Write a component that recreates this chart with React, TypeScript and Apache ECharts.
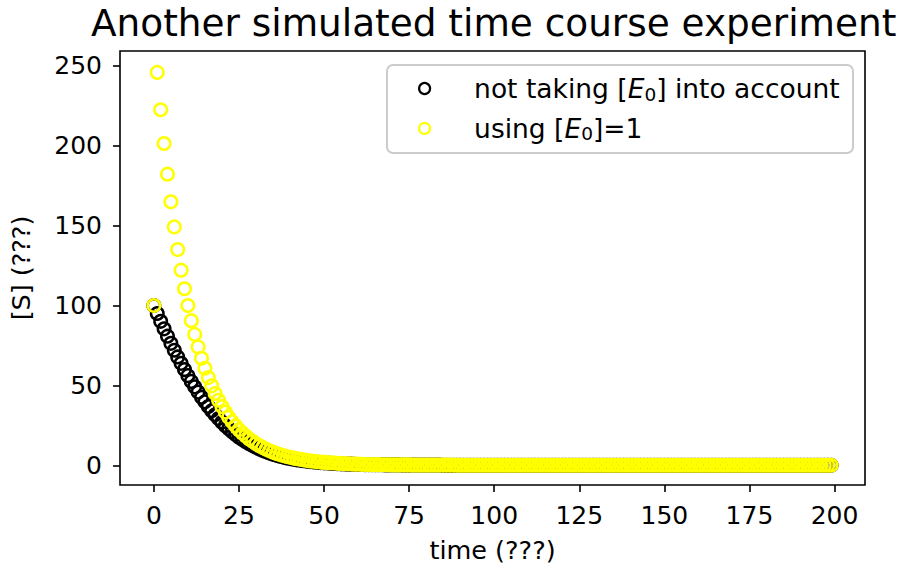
import React, { useEffect, useRef } from "react";
import * as echarts from "echarts";

const TITLE = "Another simulated time course experiment";
const X_NAME = "time (???)";
const Y_NAME = "[S] (???)";
const S1 = "not taking [E0] into account";
const S2 = "using [E0]=1";

const xTicks = [0, 25, 50, 75, 100, 125, 150, 175, 200];
const yTicks = [0, 50, 100, 150, 200, 250];

const time = [
  0, 1, 2, 3, 4, 5, 6, 7, 8, 9, 10, 11, 12, 13, 14, 15, 16, 17, 18, 19,
  20, 21, 22, 23, 24, 25, 26, 27, 28, 29, 30, 31, 32, 33, 34, 35, 36, 37, 38, 39,
  40, 41, 42, 43, 44, 45, 46, 47, 48, 49, 50, 51, 52, 53, 54, 55, 56, 57, 58, 59,
  60, 61, 62, 63, 64, 65, 66, 67, 68, 69, 70, 71, 72, 73, 74, 75, 76, 77, 78, 79,
  80, 81, 82, 83, 84, 85, 86, 87, 88, 89, 90, 91, 92, 93, 94, 95, 96, 97, 98, 99,
  100, 101, 102, 103, 104, 105, 106, 107, 108, 109, 110, 111, 112, 113, 114, 115, 116, 117, 118, 119,
  120, 121, 122, 123, 124, 125, 126, 127, 128, 129, 130, 131, 132, 133, 134, 135, 136, 137, 138, 139,
  140, 141, 142, 143, 144, 145, 146, 147, 148, 149, 150, 151, 152, 153, 154, 155, 156, 157, 158, 159,
  160, 161, 162, 163, 164, 165, 166, 167, 168, 169, 170, 171, 172, 173, 174, 175, 176, 177, 178, 179,
  180, 181, 182, 183, 184, 185, 186, 187, 188, 189, 190, 191, 192, 193, 194, 195, 196, 197, 198, 199,
];

const sNoE0 = [
  100.0, 95.0, 90.1, 85.4, 80.8, 76.3, 72.0, 67.8, 63.8, 59.9, 56.1, 52.5, 49.1, 45.8, 42.6, 39.7, 36.8, 34.1, 31.6, 29.2,
  26.9, 24.8, 22.8, 21.0, 19.2, 17.6, 16.1, 14.7, 13.4, 12.3, 11.2, 10.2, 9.2, 8.4, 7.6, 6.9, 6.3, 5.7, 5.1, 4.6,
  4.2, 3.8, 3.4, 3.1, 2.8, 2.5, 2.3, 2.1, 1.9, 1.7, 1.5, 1.4, 1.2, 1.1, 1.0, 0.9, 0.8, 0.7, 0.7, 0.6,
  0.5, 0.5, 0.4, 0.4, 0.4, 0.3, 0.3, 0.3, 0.2, 0.2, 0.2, 0.2, 0.2, 0.1, 0.1, 0.1, 0.1, 0.1, 0.1, 0.1,
  0.1, 0.1, 0.1, 0.1, 0.1, 0.0, 0.0, 0.0, 0.0, 0.0, 0.0, 0.0, 0.0, 0.0, 0.0, 0.0, 0.0, 0.0, 0.0, 0.0,
  0.0, 0.0, 0.0, 0.0, 0.0, 0.0, 0.0, 0.0, 0.0, 0.0, 0.0, 0.0, 0.0, 0.0, 0.0, 0.0, 0.0, 0.0, 0.0, 0.0,
  0.0, 0.0, 0.0, 0.0, 0.0, 0.0, 0.0, 0.0, 0.0, 0.0, 0.0, 0.0, 0.0, 0.0, 0.0, 0.0, 0.0, 0.0, 0.0, 0.0,
  0.0, 0.0, 0.0, 0.0, 0.0, 0.0, 0.0, 0.0, 0.0, 0.0, 0.0, 0.0, 0.0, 0.0, 0.0, 0.0, 0.0, 0.0, 0.0, 0.0,
  0.0, 0.0, 0.0, 0.0, 0.0, 0.0, 0.0, 0.0, 0.0, 0.0, 0.0, 0.0, 0.0, 0.0, 0.0, 0.0, 0.0, 0.0, 0.0, 0.0,
  0.0, 0.0, 0.0, 0.0, 0.0, 0.0, 0.0, 0.0, 0.0, 0.0, 0.0, 0.0, 0.0, 0.0, 0.0, 0.0, 0.0, 0.0, 0.0, 0.0,
];

const sWithE0 = [
  100.0, 245.9, 222.5, 201.4, 182.2, 164.9, 149.2, 135.0, 122.1, 110.5, 100.0, 90.5, 81.9, 74.1, 67.0, 60.7, 54.9, 49.7, 44.9, 40.7,
  36.8, 33.3, 30.1, 27.3, 24.7, 22.3, 20.2, 18.3, 16.5, 15.0, 13.5, 12.2, 11.1, 10.0, 9.1, 8.2, 7.4, 6.7, 6.1, 5.5,
  5.0, 4.5, 4.1, 3.7, 3.4, 3.0, 2.7, 2.5, 2.2, 2.0, 1.8, 1.7, 1.5, 1.4, 1.2, 1.1, 1.0, 0.9, 0.8, 0.7,
  0.7, 0.6, 0.5, 0.5, 0.4, 0.4, 0.4, 0.3, 0.3, 0.3, 0.2, 0.2, 0.2, 0.2, 0.2, 0.2, 0.1, 0.1, 0.1, 0.1,
  0.1, 0.1, 0.1, 0.1, 0.1, 0.1, 0.1, 0.1, 0.1, 0.0, 0.0, 0.0, 0.0, 0.0, 0.0, 0.0, 0.0, 0.0, 0.0, 0.0,
  0.0, 0.0, 0.0, 0.0, 0.0, 0.0, 0.0, 0.0, 0.0, 0.0, 0.0, 0.0, 0.0, 0.0, 0.0, 0.0, 0.0, 0.0, 0.0, 0.0,
  0.0, 0.0, 0.0, 0.0, 0.0, 0.0, 0.0, 0.0, 0.0, 0.0, 0.0, 0.0, 0.0, 0.0, 0.0, 0.0, 0.0, 0.0, 0.0, 0.0,
  0.0, 0.0, 0.0, 0.0, 0.0, 0.0, 0.0, 0.0, 0.0, 0.0, 0.0, 0.0, 0.0, 0.0, 0.0, 0.0, 0.0, 0.0, 0.0, 0.0,
  0.0, 0.0, 0.0, 0.0, 0.0, 0.0, 0.0, 0.0, 0.0, 0.0, 0.0, 0.0, 0.0, 0.0, 0.0, 0.0, 0.0, 0.0, 0.0, 0.0,
  0.0, 0.0, 0.0, 0.0, 0.0, 0.0, 0.0, 0.0, 0.0, 0.0, 0.0, 0.0, 0.0, 0.0, 0.0, 0.0, 0.0, 0.0, 0.0, 0.0,
];

const FONT = "DejaVu Sans";

export default function App() {
  const ref = useRef<HTMLDivElement>(null);

  useEffect(() => {
    document.body.style.margin = "0";
    if (!ref.current) return;
    const chart = echarts.init(ref.current, undefined, { renderer: "svg" });

    const hollow = (c: string) => ({
      color: "rgba(0,0,0,0)",
      borderColor: c,
      borderWidth: 2.5,
      opacity: 1,
    });

    const axisCommon = {
      axisLine: { show: false, onZero: false },
      splitLine: { show: false },
      axisTick: {
        show: true,
        inside: false,
        length: 7,
        lineStyle: { color: "#000", width: 1.6 },
      },
    };

    const option: any = {
      animation: false,
      backgroundColor: "#fff",
      title: {
        text: TITLE,
        left: 91,
        top: 4,
        padding: 0,
        textStyle: {
          fontFamily: FONT,
          fontSize: 37.4,
          fontWeight: "normal",
          color: "#000",
        },
      },
      grid: {
        left: 120,
        top: 51,
        right: 37,
        bottom: 86,
        show: true,
        borderColor: "#000",
        borderWidth: 1.6,
        backgroundColor: "rgba(0,0,0,0)",
      },
      xAxis: {
        type: "value",
        min: -9.95,
        max: 208.95,
        name: X_NAME,
        nameLocation: "middle",
        nameGap: 52,
        nameTextStyle: { fontFamily: FONT, fontSize: 25.5, color: "#000" },
        ...axisCommon,
        axisTick: { ...axisCommon.axisTick, customValues: xTicks },
        axisLabel: {
          customValues: xTicks,
          margin: 18,
          fontFamily: FONT,
          fontSize: 25,
          color: "#000",
        },
      },
      yAxis: {
        type: "value",
        min: -12.35,
        max: 259.3,
        name: Y_NAME,
        nameLocation: "middle",
        nameGap: 86,
        nameTextStyle: { fontFamily: FONT, fontSize: 25.5, color: "#000" },
        ...axisCommon,
        axisTick: { ...axisCommon.axisTick, customValues: yTicks },
        axisLabel: {
          customValues: yTicks,
          margin: 18,
          fontFamily: FONT,
          fontSize: 25,
          color: "#000",
        },
      },
      legend: {
        orient: "vertical",
        left: 418,
        top: 75,
        padding: 0,
        itemWidth: 11,
        itemHeight: 11,
        itemGap: 11.4,
        icon: "circle",
        data: [
          { name: S1, itemStyle: { color: "rgba(0,0,0,0)", borderColor: "#000", borderWidth: 2.2, opacity: 1 } },
          { name: S2, itemStyle: { color: "rgba(0,0,0,0)", borderColor: "#ffff00", borderWidth: 2.2, opacity: 1 } },
        ],
        formatter: (name: string) =>
          name === S1
            ? "{f|not taking [}{i|E}{s|0}{a|] into account}"
            : "{f|using [}{i|E}{s|0}{a|]=1}",
        textStyle: {
          fontFamily: FONT,
          fontSize: 26.5,
          color: "#000",
          rich: {
            f: { fontFamily: FONT, fontSize: 26.5, lineHeight: 30, color: "#000", padding: [0, 0, 0, 39] },
            a: { fontFamily: FONT, fontSize: 26.5, lineHeight: 30, color: "#000" },
            i: { fontFamily: FONT, fontSize: 26.5, lineHeight: 30, color: "#000", fontStyle: "italic" },
            s: { fontFamily: FONT, fontSize: 18.5, lineHeight: 14, color: "#000", verticalAlign: "bottom" },
          },
        },
        z: 5,
      },
      graphic: [
        {
          type: "rect",
          z: 3,
          shape: { x: 387, y: 65, width: 466, height: 88, r: 6 },
          style: { fill: "rgba(255,255,255,0.8)", stroke: "#cccccc", lineWidth: 2 },
        },
      ],
      series: [
        {
          name: S1,
          type: "scatter",
          symbol: "circle",
          symbolSize: 12.5,
          itemStyle: hollow("#000000"),
          data: sNoE0.map((v, i) => [time[i], v]),
          z: 2,
        },
        {
          name: S2,
          type: "scatter",
          symbol: "circle",
          symbolSize: 12.5,
          itemStyle: hollow("#ffff00"),
          data: sWithE0.map((v, i) => [time[i], v]),
          z: 2,
        },
      ],
    };

    chart.setOption(option);
    return () => chart.dispose();
  }, []);

  return <div ref={ref} style={{ width: 902, height: 571 }} />;
}
